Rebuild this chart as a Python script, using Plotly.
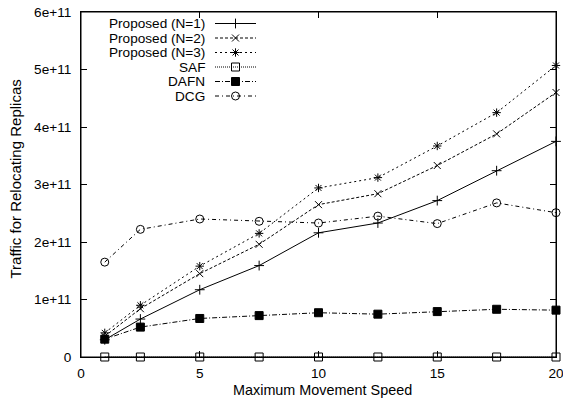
import plotly.graph_objects as go

speeds = [1, 2.5, 5, 7.5, 10, 12.5, 15, 17.5, 20]
names = ["Proposed (N=1)", "Proposed (N=2)", "Proposed (N=3)", "SAF", "DAFN", "DCG"]
n1 = [0.30e11, 0.66e11, 1.17e11, 1.59e11, 2.16e11, 2.33e11, 2.72e11, 3.24e11, 3.75e11]
n2 = [0.36e11, 0.84e11, 1.45e11, 1.96e11, 2.65e11, 2.84e11, 3.33e11, 3.88e11, 4.60e11]
n3 = [0.42e11, 0.90e11, 1.58e11, 2.15e11, 2.94e11, 3.12e11, 3.67e11, 4.25e11, 5.07e11]
saf = [0, 0, 0, 0, 0, 0, 0, 0, 0]
dafn = [0.31e11, 0.52e11, 0.67e11, 0.72e11, 0.77e11, 0.745e11, 0.79e11, 0.83e11, 0.815e11]
dcg = [1.65e11, 2.22e11, 2.40e11, 2.36e11, 2.33e11, 2.45e11, 2.32e11, 2.68e11, 2.51e11]
series = [n1, n2, n3, saf, dafn, dcg]

x_ticks = [0, 5, 10, 15, 20]
y_ticks = [0, 1e11, 2e11, 3e11, 4e11, 5e11, 6e11]
y_tick_text = ["0", "1e+11", "2e+11", "3e+11", "4e+11", "5e+11", "6e+11"]

symbols = ["cross-thin-open", "x-thin-open", "asterisk-open", "square-open", "square", "circle-open"]
dashes = ["solid", "3px,2px", "2px,3px", "1px,1px", "5px,2px,1px,2px", "4px,3px,1px,3px"]
sizes = [7, 7, 7, 8, 8, 8]

FONT = "Liberation Sans, Arial, sans-serif"
W, H = 563, 405
L, R, T, B = 81, 7, 12, 48
PW, PH = W - L - R, H - T - B


def px(xp):
    return (xp - L) / PW


def py(yp):
    return (H - B - yp) / PH


fig = go.Figure()
for name, ys, sym, dash, sz in zip(names, series, symbols, dashes, sizes):
    fig.add_trace(go.Scatter(
        x=speeds, y=ys, name=name, mode="lines+markers",
        line=dict(color="black", width=1, dash=dash),
        marker=dict(symbol=sym, size=sz, color="black",
                    line=dict(color="black", width=1)),
        showlegend=False, cliponaxis=False,
    ))

# custom legend (text on the left, sample on the right) in pixel coords on overlay axes
row0, dy = 23.5, 14.5
for i, (name, sym, dash, sz) in enumerate(zip(names, symbols, dashes, sizes)):
    yy = row0 + i * dy
    fig.add_trace(go.Scatter(
        x=[215, 235.5, 256], y=[yy, yy, yy], xaxis="x2", yaxis="y2",
        mode="lines+markers", showlegend=False, hoverinfo="skip",
        line=dict(color="black", width=1, dash=dash),
        marker=dict(symbol=sym, size=sz, color="black", opacity=[0, 1, 0],
                    line=dict(color="black", width=1)),
    ))
    fig.add_annotation(x=px(207), y=py(yy), xref="paper", yref="paper", text=name,
                       showarrow=False, xanchor="right", yanchor="middle",
                       font=dict(family=FONT, size=13.6, color="black"))

# axis titles
fig.add_annotation(x=px(322), y=py(390), xref="paper", yref="paper",
                   text="Maximum Movement Speed", showarrow=False,
                   xanchor="center", yanchor="middle",
                   font=dict(family=FONT, size=14.4, color="black"))
fig.add_annotation(x=px(15), y=py(179.5), xref="paper", yref="paper",
                   text="Traffic for Relocating Replicas", showarrow=False,
                   textangle=-90, xanchor="center", yanchor="middle",
                   font=dict(family=FONT, size=15, color="black"))

# plot frame
fig.add_shape(type="rect", xref="paper", yref="paper", x0=0, x1=1, y0=0, y1=1,
              line=dict(color="black", width=1), layer="above")

axis_common = dict(showline=True, linecolor="black", linewidth=1, mirror="allticks",
                   ticks="inside", ticklen=6, tickwidth=1, tickcolor="black",
                   showgrid=False, zeroline=False, automargin=False,
                   ticklabeloverflow="allow",
                   tickfont=dict(family=FONT, size=13.6, color="black"))

fig.update_layout(
    width=W, height=H, margin=dict(l=L, r=R, t=T, b=B),
    paper_bgcolor="white", plot_bgcolor="white",
    xaxis=dict(range=[0, 20], tickvals=x_ticks, ticktext=[str(v) for v in x_ticks],
               ticklabelstandoff=4, **axis_common),
    yaxis=dict(range=[0, 6e11], tickvals=y_ticks, ticktext=y_tick_text,
               ticklabelstandoff=6, **axis_common),
    xaxis2=dict(range=[L, W - R], overlaying="x", visible=False, fixedrange=True),
    yaxis2=dict(range=[H - B, T], overlaying="y", visible=False, fixedrange=True),
    showlegend=False,
)

fig.write_html("out.html")
